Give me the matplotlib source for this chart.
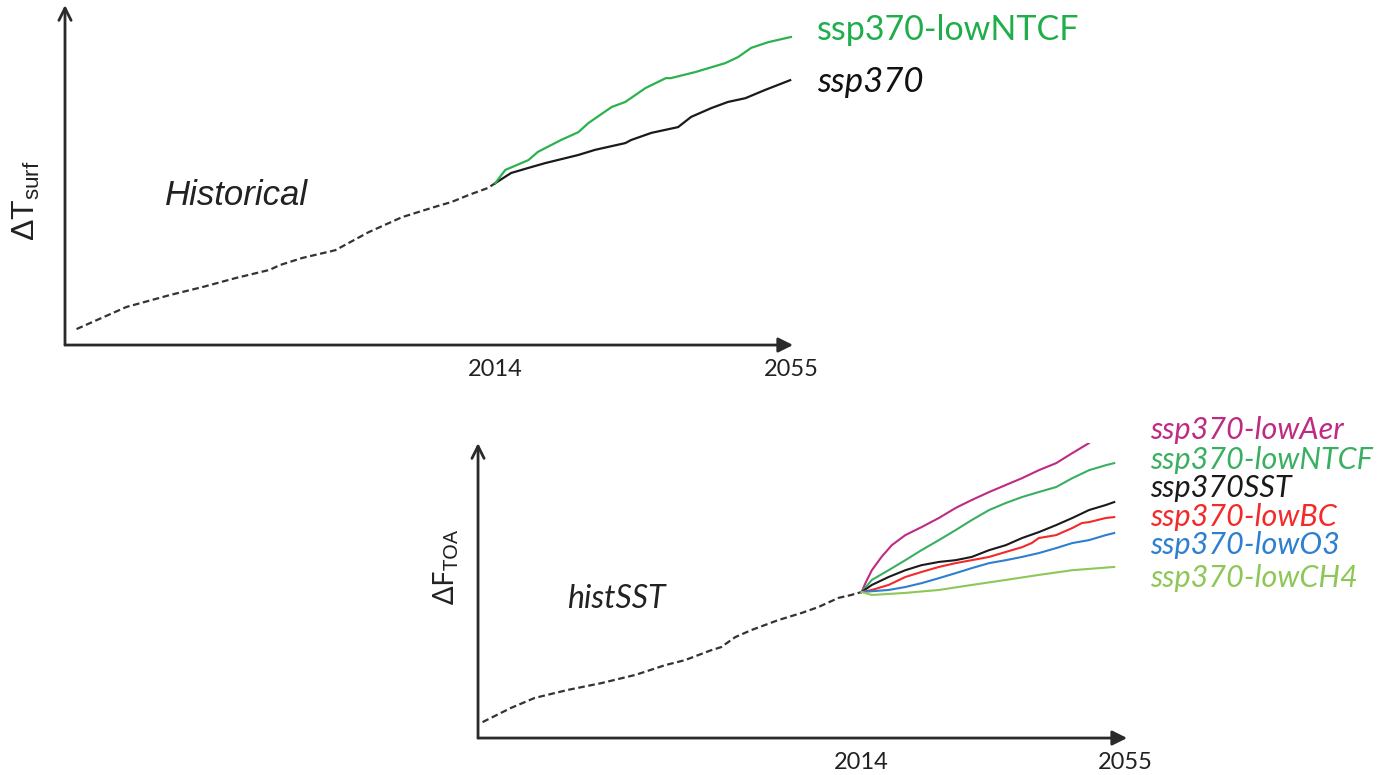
from matplotlib import pyplot as plt

plt.rcParams['mathtext.fontset'] = 'custom'
plt.rcParams['mathtext.rm'] = 'Liberation Sans'
plt.rcParams['mathtext.sf'] = 'Noto Sans'

# schematic warming (top) and forcing (bottom) curves, arbitrary units 0-100
hist_years = [1956.1, 1963.0, 1969.0, 1973.6, 1978.1, 1982.8, 1984.2, 1987.3, 1991.9,
              1993.2, 1996.5, 2001.1, 2005.6, 2008.0, 2010.3, 2013.0, 2014.0]
hist_t = [4.7, 11.2, 14.7, 17.1, 19.7, 22.1, 23.5, 25.6, 27.9,
          29.4, 33.2, 37.6, 40.6, 42.1, 44.1, 46.2, 47.6]

ntcf_years = [2014.0, 2015.4, 2018.6, 2019.9, 2023.1, 2025.5, 2026.9, 2030.1, 2032.0,
              2034.8, 2037.6, 2038.3, 2041.7, 2045.8, 2047.6, 2049.4, 2051.8, 2054.9]
ntcf_t = [47.6, 51.5, 54.4, 56.8, 60.3, 62.6, 65.3, 70.0, 71.5,
          75.6, 78.5, 78.5, 80.3, 82.9, 84.7, 87.4, 89.1, 90.6]

ssp_years = [2014.0, 2016.2, 2018.6, 2020.9, 2025.5, 2027.8, 2032.0, 2032.8,
             2035.6, 2039.3, 2041.1, 2043.9, 2046.2, 2048.6, 2051.3, 2054.8]
ssp_t = [47.6, 50.6, 52.1, 53.5, 55.9, 57.4, 59.4, 60.3,
         62.4, 64.1, 67.1, 69.7, 71.5, 72.6, 75.0, 77.9]

histsst_years = [1955.2, 1959.6, 1963.3, 1968.4, 1973.6, 1978.9, 1981.3, 1983.5, 1986.6, 1990.7,
                 1992.2, 1994.4, 1996.9, 2001.1, 2004.7, 2007.3, 2010.4, 2012.4, 2014.0]
histsst_f = [5.4, 10.2, 13.6, 16.3, 18.6, 21.4, 23.1, 24.7, 26.4, 29.8,
             30.8, 34.2, 36.6, 40.0, 42.4, 44.4, 47.5, 48.5, 49.5]

aer_years = [2014.0, 2014.6, 2015.6, 2017.1, 2018.7, 2020.8, 2023.3, 2026.0, 2028.6,
             2031.1, 2033.8, 2036.4, 2038.9, 2041.5, 2044.2, 2046.7, 2049.3]
aer_f = [49.5, 52.5, 56.9, 61.4, 65.4, 68.8, 71.5, 74.6, 78.0,
         80.7, 83.4, 85.8, 88.1, 90.8, 93.2, 96.6, 100.0]

fut_years = [2014.0, 2015.6, 2018.2, 2020.8, 2023.3, 2026.0, 2028.6, 2031.1, 2033.8,
             2036.4, 2038.9, 2041.5, 2044.2, 2046.7, 2049.3, 2051.9, 2053.2]
ntcf_f = [49.5, 53.6, 56.9, 60.3, 63.7, 67.1, 70.5, 73.9, 77.3,
          79.7, 81.7, 83.4, 85.1, 88.1, 90.8, 92.5, 93.2]
sst_f = [49.5, 51.9, 54.6, 56.9, 58.6, 59.7, 60.3, 61.4, 63.7,
         65.4, 67.8, 69.8, 72.2, 74.6, 77.3, 79.0, 80.0]

bc_years = [2014.0, 2015.6, 2018.2, 2020.8, 2023.3, 2026.0, 2028.6, 2031.1, 2033.8, 2036.4,
            2038.9, 2040.4, 2041.5, 2044.2, 2046.7, 2048.2, 2049.3, 2051.9, 2053.2]
bc_f = [49.5, 50.2, 51.9, 54.6, 56.3, 58.0, 59.3, 60.3, 61.4, 63.1,
        64.7, 66.1, 67.8, 68.8, 71.2, 72.9, 73.2, 74.6, 74.9]

o3_years = [2014.0, 2018.2, 2020.8, 2023.3, 2026.0, 2028.6, 2031.1, 2033.8,
            2036.4, 2038.9, 2041.5, 2044.2, 2046.7, 2049.3, 2051.9, 2053.2]
o3_f = [49.5, 50.2, 51.2, 52.5, 54.2, 55.9, 57.6, 59.3,
        60.3, 61.4, 62.7, 64.4, 66.1, 67.1, 68.8, 69.5]

ch4_years = [2014.0, 2015.6, 2020.8, 2026.0, 2031.1, 2036.4, 2041.5, 2046.7, 2053.2]
ch4_f = [49.5, 48.5, 49.2, 50.2, 51.9, 53.6, 55.3, 56.9, 58.0]

bottom_runs = [
    ("ssp370-lowAer", aer_years, aer_f, "#bf2a82"),
    ("ssp370-lowNTCF", fut_years, ntcf_f, "#3aaf62"),
    ("ssp370SST", fut_years, sst_f, "#1a1a1a"),
    ("ssp370-lowBC", bc_years, bc_f, "#f22a2a"),
    ("ssp370-lowO3", o3_years, o3_f, "#2d7fcf"),
    ("ssp370-lowCH4", ch4_years, ch4_f, "#8dc856"),
]
tick_years = [2014, 2055]
tick_labels = ["2014", "2055"]

AXIS_COLOR = "#2a2a2a"
HIST_STYLE = dict(color="#333333", lw=1.6, linestyle=(0, (3, 1.6)))
LABEL_FONT = "Lato"


def arrow_axes(ax):
    for s in ax.spines.values():
        s.set_visible(False)
    ax.annotate("", xy=(1, 0), xytext=(0, 0), xycoords="axes fraction",
                arrowprops=dict(arrowstyle="-|>", color=AXIS_COLOR, lw=2,
                                mutation_scale=22, shrinkA=0, shrinkB=0))
    ax.annotate("", xy=(0, 1), xytext=(0, 0), xycoords="axes fraction",
                arrowprops=dict(arrowstyle="->", color=AXIS_COLOR, lw=2,
                                mutation_scale=22, shrinkA=0, shrinkB=0))
    ax.set_xlim(1954.5, 2055.2)
    ax.set_ylim(0, 100)
    ax.set_yticks([])
    ax.set_xticks(tick_years)
    ax.set_xticklabels(tick_labels, fontfamily=LABEL_FONT, fontsize=17, color="#222222")
    ax.tick_params(axis="x", length=0, pad=10)
    ax.patch.set_alpha(0)


fig = plt.figure(figsize=(13.86, 7.75), dpi=100)

# top: surface temperature response
ax1 = fig.add_axes([0.0469, 0.5548, 0.5253, 0.4387])
arrow_axes(ax1)
ax1.plot(hist_years, hist_t, **HIST_STYLE)
ax1.plot(ssp_years, ssp_t, color="#1a1a1a", lw=1.6)
ax1.plot(ntcf_years, ntcf_t, color="#2bb24f", lw=1.6)
ax1.annotate("ssp370-lowNTCF", xy=(ntcf_years[-1], ntcf_t[-1]), xytext=(19, 5),
             textcoords="offset points", va="center", ha="left", color="#1fae4b",
             fontsize=24.5, fontfamily=LABEL_FONT, annotation_clip=False)
ax1.annotate("ssp370", xy=(ssp_years[-1], ssp_t[-1]), xytext=(19, -1),
             textcoords="offset points", va="center", ha="left", color="#111111",
             fontsize=25, fontstyle="italic", fontfamily=LABEL_FONT, annotation_clip=False)
ax1.text(0.137, 0.44, "Historical", transform=ax1.transAxes, fontsize=25,
         fontstyle="italic", fontfamily="Liberation Sans", color="#222222", va="center")
fig.text(0.019, 0.741, r"$\Delta\mathrm{T}_{\mathrm{surf}}$", rotation=90, fontsize=23,
         ha="center", va="center", color="#222222")

# bottom: top-of-atmosphere forcing with fixed SSTs
ax2 = fig.add_axes([0.3449, 0.0477, 0.4683, 0.3806])
arrow_axes(ax2)
ax2.plot(histsst_years, histsst_f, **HIST_STYLE)
label_y = [1.044, 0.942, 0.847, 0.749, 0.654, 0.542]
for (name, yrs, vals, col), ly in zip(bottom_runs, label_y):
    ax2.plot(yrs, vals, color=col, lw=1.5)
    ax2.text(1.035, ly, name, transform=ax2.transAxes, color=col, fontsize=22,
             fontstyle="italic", fontfamily=LABEL_FONT, va="center", ha="left")
ax2.text(0.137, 0.47, "histSST", transform=ax2.transAxes, fontsize=23,
         fontstyle="italic", fontfamily=LABEL_FONT, color="#222222", va="center")
fig.text(0.322, 0.268, r"$\mathsf{\Delta F}_{\mathsf{TOA}}$", rotation=90, fontsize=21,
         ha="center", va="center", color="#222222")

fig.savefig("out.png", dpi=100)
